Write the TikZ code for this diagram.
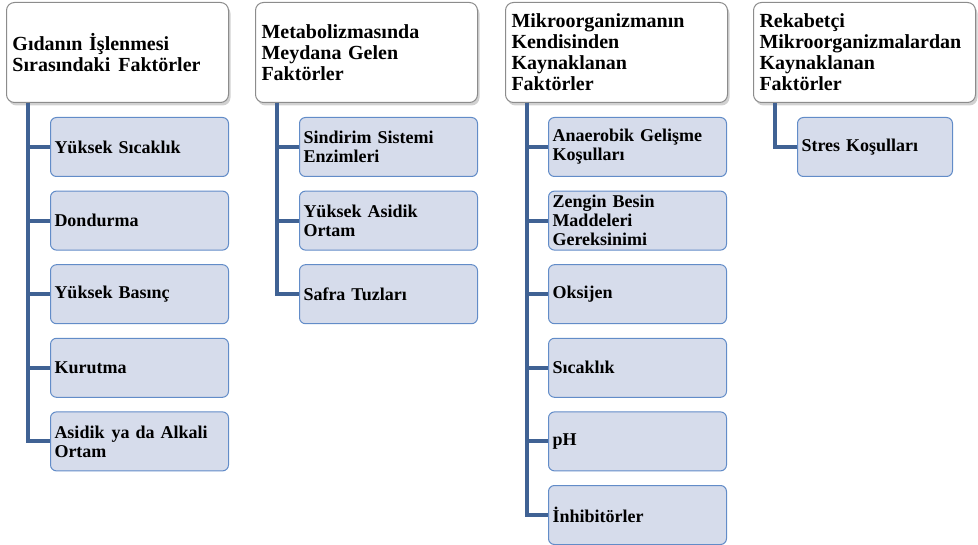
\documentclass[tikz,border=0pt]{standalone}
\usepackage{fontspec}
\setmainfont{Liberation Serif}
\usetikzlibrary{shadows}
\definecolor{boxfill}{RGB}{214,220,235}
\definecolor{boxline}{RGB}{98,140,200}
\definecolor{connline}{RGB}{64,98,148}
\definecolor{headline}{RGB}{140,140,140}
\tikzset{
  head/.style={draw=headline, line width=1pt, fill=white, rounded corners=8pt,
    anchor=north west, minimum width=222pt, minimum height=100pt,
    text width=210pt, inner xsep=6pt, inner ysep=0pt, align=left,
    font=\fontsize{20}{21}\selectfont\bfseries,
    drop shadow={shadow xshift=2pt, shadow yshift=-3pt, fill=black!40, opacity=0.45}},
  item/.style={draw=boxline, line width=1pt, fill=boxfill, rounded corners=6pt,
    anchor=north west, minimum width=178pt, minimum height=59pt,
    text width=170pt, inner xsep=4pt, inner ysep=0pt, align=left,
    font=\fontsize{18}{19}\selectfont\bfseries},
  conn/.style={draw=connline, line width=4pt, line join=miter}
}
\begin{document}
\begin{tikzpicture}[x=1pt,y=-1pt]
\useasboundingbox (0,0) rectangle (978,545);
% headers
\node[head] (h1) at (6,2) {Gıdanın İşlenmesi\\Sırasındaki\hspace{8pt}Faktörler};
\node[head] (h2) at (255,2) {Metabolizmasında\\Meydana Gelen\\Faktörler};
\node[head, minimum width=221pt] (h3) at (505,2) {Mikroorganizmanın\\Kendisinden\\Kaynaklanan\\Faktörler};
\node[head] (h4) at (753,2) {Rekabetçi\\Mikroorganizmalardan\\Kaynaklanan\\Faktörler};
% column 1
\node[item] (a1) at (50,117) {Yüksek Sıcaklık};
\node[item] (a2) at (50,190.6) {Dondurma};
\node[item] (a3) at (50,264.2) {Yüksek Basınç};
\node[item] (a4) at (50,337.8) {Kurutma};
\node[item] (a5) at (50,411.4) {Asidik\hspace{7pt}ya da Alkali\\Ortam};
% column 2
\node[item] (b1) at (299,117) {Sindirim Sistemi\\Enzimleri};
\node[item] (b2) at (299,190.6) {Yüksek Asidik\\Ortam};
\node[item] (b3) at (299,264.2) {Safra Tuzları};
% column 3
\node[item] (c1) at (548,117) {Anaerobik Gelişme\\Koşulları};
\node[item] (c2) at (548,190.6) {Zengin Besin\\Maddeleri\\Gereksinimi};
\node[item] (c3) at (548,264.2) {Oksijen};
\node[item] (c4) at (548,337.8) {Sıcaklık};
\node[item] (c5) at (548,411.4) {pH};
\node[item] (c6) at (548,485) {İnhibitörler};
% column 4
\node[item, minimum width=155pt, text width=147pt] (d1) at (797,117) {Stres Koşulları};
% connectors
\coordinate (s1) at ([xshift=22pt]h1.south west);
\coordinate (s2) at ([xshift=22pt]h2.south west);
\coordinate (s3) at ([xshift=22pt]h3.south west);
\coordinate (s4) at ([xshift=22pt]h4.south west);
\foreach \n in {a1,a2,a3,a4,a5}{\draw[conn] (s1) |- (\n.west);}
\foreach \n in {b1,b2,b3}{\draw[conn] (s2) |- (\n.west);}
\foreach \n in {c1,c2,c3,c4,c5,c6}{\draw[conn] (s3) |- (\n.west);}
\draw[conn] (s4) |- (d1.west);
\end{tikzpicture}
\end{document}
